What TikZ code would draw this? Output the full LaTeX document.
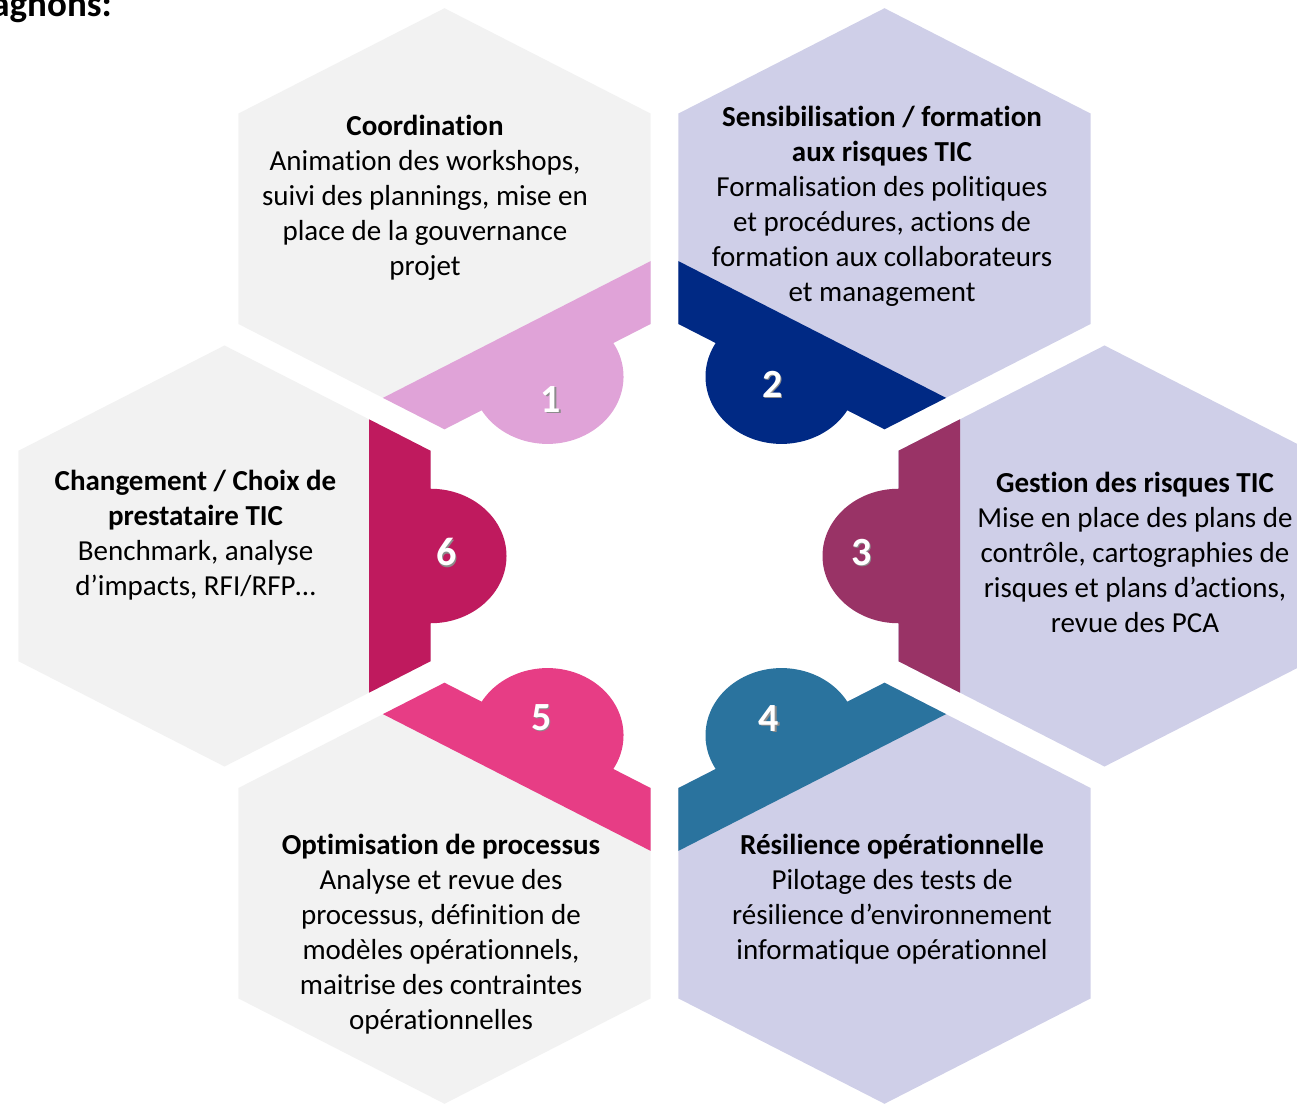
\documentclass[tikz,border=0pt]{standalone}
\usepackage{fontspec}
\setmainfont[Ligatures=NoCommon]{Carlito}
\usepackage{tikz}
\usetikzlibrary{calc,positioning}

\definecolor{hexgray}{RGB}{242,242,242}
\definecolor{hexlav}{RGB}{207,207,232}
\definecolor{tabpink}{RGB}{224,163,216}
\definecolor{tabnavy}{RGB}{0,41,132}
\definecolor{tabplum}{RGB}{153,51,102}
\definecolor{tabsteel}{RGB}{42,115,158}
\definecolor{tabrose}{RGB}{231,61,133}
\definecolor{tabcrimson}{RGB}{191,26,94}

\tikzset{every picture/.style={
  x=1pt, y=1pt                  % One unit per pixel of the page.
  }
}

% Step number with a soft shadow under it.
\newcommand{\shadednum}[1]{%
  \makebox[0pt][l]{\hspace{1.5pt}\raisebox{-1.5pt}{\color{black!45}#1}}#1}

\begin{document}
\begin{tikzpicture}[
    txt/.style={                % Text inside the cells.
      align=center,
      inner sep=0pt,
      text=black,
      font=\fontsize{29}{35}\selectfont
    },
    num/.style={                % Numbers on the tabs.
      inner sep=0pt,
      text=white,
      font=\fontsize{40}{44}\selectfont\bfseries
    },
    ttl/.style={                % Cut off heading at the top.
      inner sep=0pt,
      font=\fontsize{37}{40}\selectfont\bfseries
    }]

    \useasboundingbox (0,0) rectangle (1297,1104);
    \clip (0,0) rectangle (1297,1104);

    % Ring of six hexagons, drawn regular and then squashed.
    \begin{scope}[shift={(664.5,548)}, yscale=0.885]
      \foreach \n/\bg/\tab in {1/hexgray/tabpink, 2/hexlav/tabnavy,
          3/hexlav/tabplum, 4/hexlav/tabsteel, 5/hexgray/tabrose,
          6/hexgray/tabcrimson} {
        \begin{scope}[shift={(180-60*\n:440)}, rotate=-60*\n]
          \coordinate (cell\n) at (0,0);
          \fill[\bg] (30:237.9) -- (90:237.9) -- (150:237.9)
            -- (210:237.9) -- (270:237.9) -- (330:237.9) -- cycle;
          % Tab with its half disc, on the side that faces the middle.
          \fill[\tab] (144.5,-154.5) -- (206,-118.95) -- (206,-76)
            arc[start angle=-90, end angle=90, radius=76]
            -- (206,118.95) -- (144.5,154.5) -- cycle;
        \end{scope}
      }
    \end{scope}

    % Heading left over from the page.
    \node[ttl,anchor=base east] (head) at (112,1087.5) {agnons:};

    % Texts of the cells.
    \node[txt] (t1) at (425,906) {\textbf{Coordination}\\
      Animation des workshops,\\suivi des plannings, mise en\\
      place de la gouvernance\\projet};
    \node[txt] (t2) at (882,898) {\textbf{Sensibilisation / formation}\\
      \textbf{aux risques TIC}\\Formalisation des politiques\\
      et procédures, actions de\\formation aux collaborateurs\\
      et management};
    \node[txt] (t3) at (1135,551.5) {\textbf{Gestion des risques TIC}\\
      Mise en place des plans de\\contrôle, cartographies de\\
      risques et plans d’actions,\\revue des PCA};
    \node[txt] (t4) at (892,205) {\textbf{Résilience opérationnelle}\\
      Pilotage des tests de\\résilience d’environnement\\
      informatique opérationnel};
    \node[txt] (t5) at (441,170) {\textbf{Optimisation de processus}\\
      Analyse et revue des\\processus, définition de\\
      modèles opérationnels,\\maitrise des contraintes\\
      opérationnelles};
    \node[txt] (t6) at (195.5,569) {\textbf{Changement / Choix de}\\
      \textbf{prestataire TIC}\\Benchmark, analyse\\
      d’impacts, RFI/RFP…};

    % Numbers on the tabs.
    \node[num] (n1) at (551,704) {\shadednum{1}};
    \node[num] (n2) at (772.5,719) {\shadednum{2}};
    \node[num] (n3) at (861.5,551) {\shadednum{3}};
    \node[num] (n4) at (769,385) {\shadednum{4}};
    \node[num] (n5) at (541.5,386) {\shadednum{5}};
    \node[num] (n6) at (446.5,551) {\shadednum{6}};
  \end{tikzpicture}
\end{document}
